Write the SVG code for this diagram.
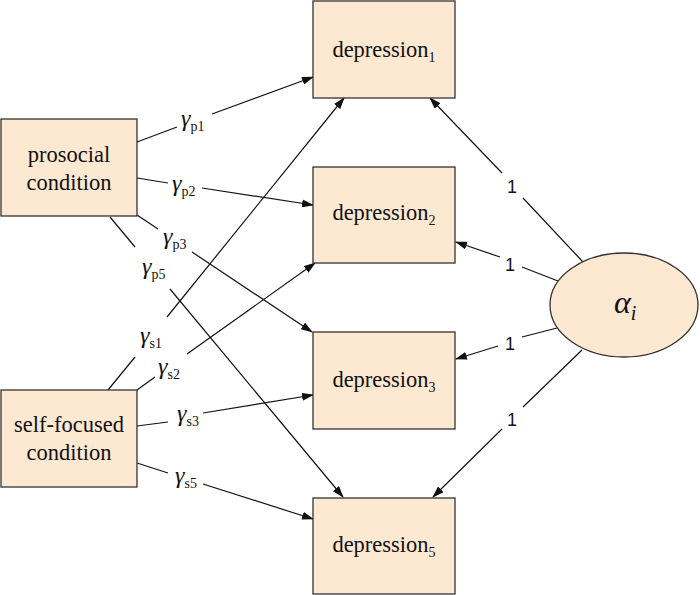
<svg xmlns="http://www.w3.org/2000/svg" width="700" height="595" viewBox="0 0 700 595">
<defs>
<marker id="ah" markerWidth="12" markerHeight="8" refX="11" refY="4" orient="auto" markerUnits="userSpaceOnUse">
<path d="M0,0 L12,4 L0,8 Z" fill="#111"/>
</marker>
<style>
.box{fill:#FDE8D2;stroke:#333;stroke-width:1.3}
.t{font-size:22.5px;fill:#111;text-anchor:middle}
.g{font-size:24px;fill:#111;font-style:italic}
.sub{font-style:normal;font-size:14px}
.one{font-size:18px;fill:#111;text-anchor:middle}
.c{fill:none;stroke:#111;stroke-width:1.2;marker-end:url(#ah)}
</style>
</defs>
<rect width="700" height="595" fill="#fff"/>
<g id="connectors">
<path class="c" d="M137,142 L177,127 M212,114 L313,77"/>
<path class="c" d="M137,178 L168,183 M202,188 L313,205"/>
<path class="c" d="M137,215 L158,229 M192,252 L312,332"/>
<path class="c" d="M110,217 L135,247 M170,289 L343,497"/>
<path class="c" d="M108,390 L135,357 M167,317 L344,98"/>
<path class="c" d="M137,390 L155,377 M187,354 L315,263"/>
<path class="c" d="M137,426 L168,422 M203,413 L313,395"/>
<path class="c" d="M137,463 L168,473 M203,484 L313,519"/>
<path class="c" d="M583,262 L523,198 M502,173 L430,98"/>
<path class="c" d="M558,281 L522,267 M500,257 L456,242"/>
<path class="c" d="M557,328 L522,337 M498,346 L456,359"/>
<path class="c" d="M582,350 L523,407 M502,429 L433,497"/>
<g font-family="'Liberation Serif', 'Times New Roman', serif">
<text class="g" x="181" y="126">γ<tspan class="sub" dy="5">p1</tspan></text>
<text class="g" x="172" y="191">γ<tspan class="sub" dy="5">p2</tspan></text>
<text class="g" x="163" y="244">γ<tspan class="sub" dy="5">p3</tspan></text>
<text class="g" x="142" y="274">γ<tspan class="sub" dy="5">p5</tspan></text>
<text class="g" x="140" y="343">γ<tspan class="sub" dy="5">s1</tspan></text>
<text class="g" x="158" y="374">γ<tspan class="sub" dy="5">s2</tspan></text>
<text class="g" x="177" y="421">γ<tspan class="sub" dy="5">s3</tspan></text>
<text class="g" x="175" y="483">γ<tspan class="sub" dy="5">s5</tspan></text>
</g>
<g font-family="'Liberation Sans', Arial, sans-serif">
<text class="one" x="512" y="193">1</text>
<text class="one" x="510" y="271">1</text>
<text class="one" x="510" y="350">1</text>
<text class="one" x="512" y="426">1</text>
</g>
</g>
<g font-family="'Liberation Serif', 'Times New Roman', serif">
<g id="prosocial">
<rect class="box" x="1" y="119" width="136" height="97"/>
<text class="t" x="69" y="162">prosocial</text>
<text class="t" x="69" y="190">condition</text>
</g>
<g id="selffocused">
<rect class="box" x="1" y="390" width="136" height="97"/>
<text class="t" x="69" y="432">self-focused</text>
<text class="t" x="69" y="460">condition</text>
</g>
<g id="depression1">
<rect class="box" x="313" y="1" width="142" height="97"/>
<text class="t" x="384" y="57">depression<tspan class="sub" dy="5">1</tspan></text>
</g>
<g id="depression2">
<rect class="box" x="313" y="167" width="142" height="96"/>
<text class="t" x="384" y="220">depression<tspan class="sub" dy="5">2</tspan></text>
</g>
<g id="depression3">
<rect class="box" x="313" y="332" width="142" height="97"/>
<text class="t" x="384" y="387">depression<tspan class="sub" dy="5">3</tspan></text>
</g>
<g id="depression5">
<rect class="box" x="313" y="498" width="142" height="96"/>
<text class="t" x="384" y="552">depression<tspan class="sub" dy="5">5</tspan></text>
</g>
<g id="alpha">
<ellipse class="box" cx="624" cy="305" rx="74" ry="52"/>
<text x="614" y="313" font-size="32" font-style="italic" fill="#111">α<tspan dy="7" font-size="20">i</tspan></text>
</g>
</g>
</svg>
